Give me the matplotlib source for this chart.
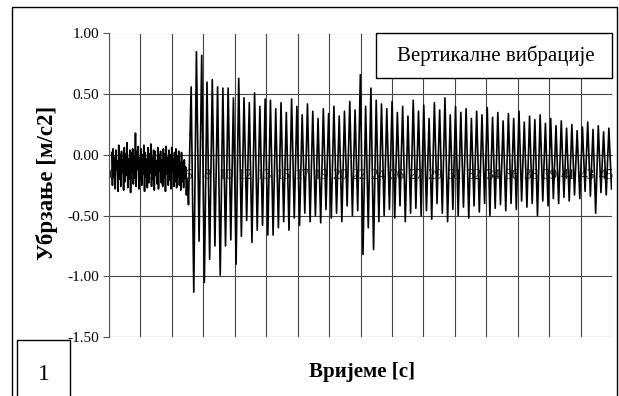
import numpy as np
import matplotlib
matplotlib.use("Agg")
import matplotlib.pyplot as plt
from matplotlib.patches import Rectangle
from matplotlib.ticker import FixedLocator, FixedFormatter

# ---------------- data ----------------
# low-level noise before the event (0 .. 7 s)
noise_dt = 0.0636
noise_values = [0.02, -0.25, 0.05, -0.18, -0.02, -0.28, 0.04, -0.12, -0.05, -0.30,
                0.08, -0.20, 0.00, -0.26, 0.03, -0.15, -0.04, -0.29, 0.06, -0.22,
                0.01, -0.17, 0.10, -0.27, -0.03, -0.20, 0.04, -0.31, 0.02, -0.14,
                0.05, -0.24, -0.01, -0.19, 0.18, -0.26, 0.03, -0.12, 0.07, -0.28,
                -0.02, -0.21, 0.05, -0.25, 0.00, -0.16, 0.08, -0.30, 0.02, -0.18,
                -0.03, -0.27, 0.06, -0.23, 0.01, -0.15, 0.09, -0.26, -0.02, -0.20,
                0.04, -0.29, 0.03, -0.17, -0.05, -0.24, 0.06, -0.28, 0.00, -0.13,
                0.03, -0.23, -0.04, -0.26, 0.05, -0.19, 0.01, -0.30, 0.07, -0.16,
                -0.02, -0.25, 0.04, -0.21, 0.00, -0.28, 0.06, -0.14, -0.03, -0.26,
                0.02, -0.22, 0.05, -0.27, -0.01, -0.18, 0.03, -0.25, -0.06, -0.29,
                0.02, -0.22, -0.06, -0.27, -0.04, -0.19, -0.10, -0.33, -0.20, -0.28]

# vibration after the event: alternating extremes (peak, trough)
osc_dt = 0.241
osc_values = [-0.41,
              0.56, -1.13, 0.85, -0.71, 0.82, -1.05, 0.60, -0.86, 0.62, -0.75,
              0.56, -0.99, 0.55, -0.75, 0.55, -0.70, 0.47, -0.90, 0.63, -0.67,
              0.47, -0.54, 0.43, -0.72, 0.51, -0.62, 0.40, -0.58, 0.46, -0.66,
              0.45, -0.66, 0.38, -0.60, 0.43, -0.55, 0.35, -0.62, 0.46, -0.52,
              0.40, -0.58, 0.33, -0.48, 0.42, -0.55, 0.36, -0.50, 0.30, -0.56,
              0.38, -0.45, 0.34, -0.52, 0.40, -0.48, 0.32, -0.55, 0.36, -0.42,
              0.44, -0.50, 0.37, -0.46,
              0.66, -0.82, 0.40, -0.60, 0.55, -0.78, 0.45, -0.55,
              0.42, -0.50, 0.38, -0.45, 0.44, -0.52, 0.35, -0.42, 0.40, -0.55,
              0.32, -0.48, 0.45, -0.44, 0.36, -0.50, 0.41, -0.46, 0.30, -0.53,
              0.43, -0.40, 0.37, -0.48, 0.47, -0.55, 0.33, -0.45, 0.40, -0.50,
              0.35, -0.43, 0.38, -0.52, 0.30, -0.42, 0.36, -0.47, 0.33, -0.40,
              0.39, -0.50, 0.31, -0.44, 0.35, -0.41, 0.28, -0.46, 0.34, -0.40,
              0.30, -0.45, 0.36, -0.38, 0.27, -0.43, 0.32, -0.40, 0.29, -0.50,
              0.33, -0.38, 0.26, -0.42, 0.30, -0.36, 0.24, -0.40, 0.28, -0.35,
              0.22, -0.38, 0.25, -0.33, 0.20, -0.36, 0.23, -0.30, 0.27, -0.34,
              0.21, -0.48, 0.24, -0.31, 0.19, -0.33, 0.22, -0.28]

x_tick_labels = ["0", "1", "3", "5", "6", "8", "10", "12", "13", "15", "17", "19",
                 "20", "22", "24", "26", "27", "29", "31", "32", "34", "36", "38",
                 "39", "41", "43", "45"]
x_label_step = 1.735
y_ticks = [-1.5, -1.0, -0.5, 0.0, 0.5, 1.0]

legend_text = "Вертикалне вибрације"
x_title = "Вријеме [с]"
y_title = "Убрзање [м/с2]"
panel_no = "1"

# ---------------- build series ----------------
t_noise = np.arange(len(noise_values)) * noise_dt
t0 = len(noise_values) * noise_dt
t_osc = t0 + np.arange(len(osc_values)) * osc_dt
t = np.concatenate([t_noise, t_osc])
y = np.array(noise_values + osc_values)

# ---------------- figure ----------------
W, H = 619, 396
plt.rcParams['font.family'] = ['Liberation Serif', 'DejaVu Serif']
fig = plt.figure(figsize=(W / 100, H / 100), dpi=100)
fig.patch.set_facecolor('white')

ax_l, ax_r, ax_t, ax_b = 109, 612, 33.5, 337
ax = fig.add_axes([ax_l / W, 1 - ax_b / H, (ax_r - ax_l) / W, (ax_b - ax_t) / H])
ax.set_axisbelow(True)

x_max = 45.6
ax.set_xlim(-0.25, x_max)
ax.set_ylim(-1.5, 1.0)

# y axis
ax.set_yticks(y_ticks)
ax.set_yticklabels([f"{v:.2f}" for v in y_ticks], fontsize=11)
ax.tick_params(axis='y', direction='out', length=4, width=0.8, color='#555555', pad=3)
ax.grid(axis='y', color='#444444', linewidth=0.8)

# x axis crossing at y = 0 with category-like labels
pos = [i * x_label_step for i in range(len(x_tick_labels))]
ax.xaxis.set_major_locator(FixedLocator(pos))
ax.xaxis.set_major_formatter(FixedFormatter(x_tick_labels))
ax.spines['bottom'].set_position(('data', 0))
ax.spines['bottom'].set_color('#444444')
ax.tick_params(axis='x', direction='out', length=0, labelsize=11, pad=10, labelcolor='#222222')

# vertical gridlines (16 intervals)
grid_x = np.linspace(-0.25, x_max, 17)
ax.xaxis.set_minor_locator(FixedLocator(grid_x))
ax.tick_params(axis='x', which='minor', length=0)
ax.grid(axis='x', which='minor', color='#444444', linewidth=0.8)

for s in ['top', 'right']:
    ax.spines[s].set_visible(False)
ax.spines['left'].set_color('#555555')

ax.plot(t, y, color='black', linewidth=1.2, zorder=3)

# titles
fig.text(362 / W, 1 - 372 / H, x_title, fontsize=15, fontweight='bold',
         ha='center', va='center')
fig.text(47 / W, 1 - 183 / H, y_title, fontsize=16.5, fontweight='bold',
         ha='center', va='center', rotation=90)

# legend-like box
fig.add_artist(Rectangle((376 / W, 1 - 77.5 / H), (612 - 376) / W, (77.5 - 33.5) / H,
                         transform=fig.transFigure, facecolor='white',
                         edgecolor='black', linewidth=1.0, zorder=5))
fig.text(496 / W, 1 - 56 / H, legend_text, fontsize=15, ha='center', va='center', zorder=6)

# panel number box
fig.add_artist(Rectangle((17 / W, -0.05), (70 - 17) / W, (1 - 340 / H) + 0.05,
                         transform=fig.transFigure, facecolor='white',
                         edgecolor='black', linewidth=1.0, zorder=5))
fig.text(43.5 / W, 1 - 374 / H, panel_no, fontsize=17, ha='center', va='center', zorder=6)

# outer frame
fig.add_artist(Rectangle((11.5 / W, -0.05), (617 - 11.5) / W, (1 - 7 / H) + 0.05,
                         transform=fig.transFigure, facecolor='none',
                         edgecolor='black', linewidth=1.0, zorder=4))

fig.savefig("out.png", dpi=100)
